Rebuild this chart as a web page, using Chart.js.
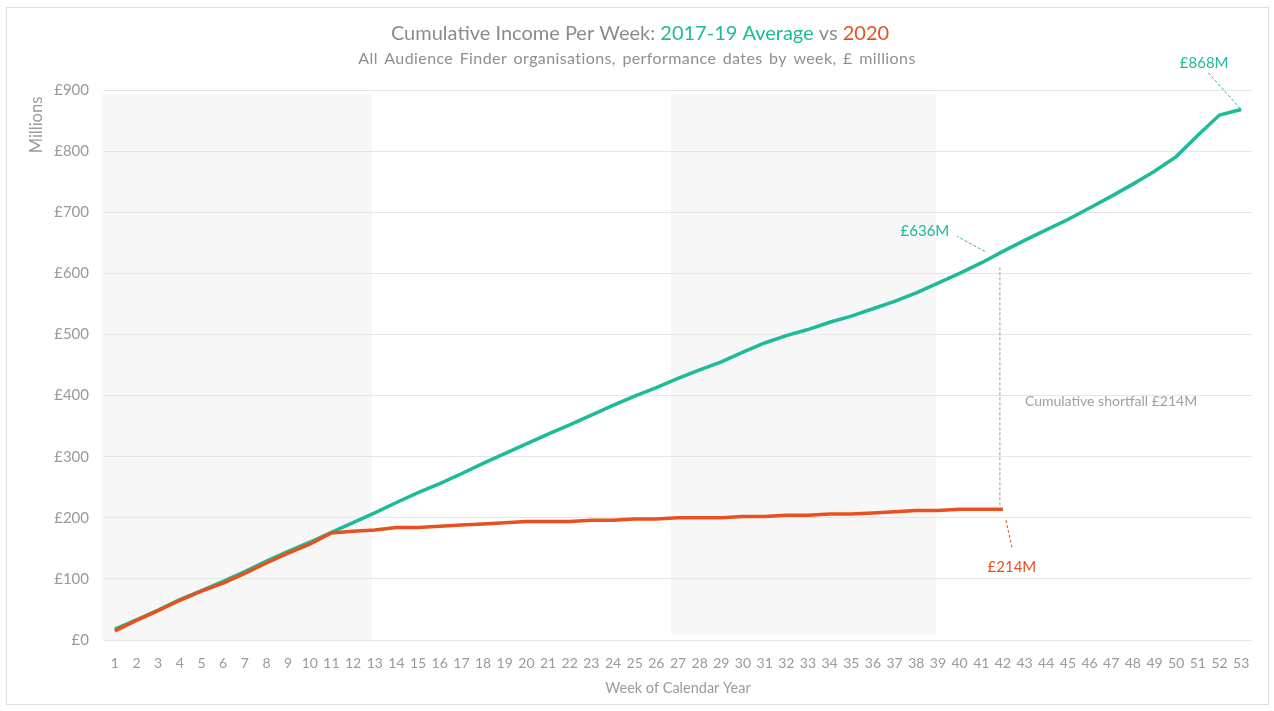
<!DOCTYPE html>
<html lang="en">
<head>
<meta charset="UTF-8">
<title>Cumulative Income Per Week</title>
<script src="https://cdn.jsdelivr.net/npm/chart.js"></script>
<style>
    html, body { margin: 0; padding: 0; background: #fff; }
    #wrap { width: 1274px; height: 711px; position: relative; }
</style>
</head>
<body>
<div id="wrap"><canvas id="myChart" width="1274" height="711"></canvas></div>
<script>
    // 데이터
    const weeks = [];
    for (let w = 1; w <= 53; w++) weeks.push(String(w));

    const avg1719 = [18, 33, 49, 66, 81, 96, 112, 129, 145, 160,
        176, 192, 208, 225, 241, 256, 272, 289, 305, 321,
        337, 352, 368, 384, 399, 413, 428, 442, 455, 471,
        486, 498, 508, 520, 530, 542, 554, 568, 584, 600,
        617, 636, 654, 671, 688, 707, 726, 746, 767, 791,
        826, 859, 868];

    const year2020 = [15, 32, 48, 65, 80, 93, 109, 126, 142, 157,
        175, 178, 180, 184, 184, 186, 188, 190, 192, 194,
        194, 194, 196, 196, 198, 198, 200, 200, 200, 202,
        202, 204, 204, 206, 206, 208, 210, 212, 212, 214,
        214, 214];

    const yTicks = [0, 100, 200, 300, 400, 500, 600, 700, 800, 900];
    const shadedWeeks = [[1, 13], [27, 39]];

    const TEAL = '#1dbb98';
    const RED = '#e8501e';
    const GREY = '#9a9a9a';
    const FONT = 'Lato, "Open Sans", sans-serif';

    // 배경 카드 + 음영 구간
    const backgroundPlugin = {
        id: 'bg',
        beforeDraw(chart) {
            const ctx = chart.ctx;
            const x = chart.scales.x, y = chart.scales.y;
            ctx.save();
            ctx.strokeStyle = '#dedede';
            ctx.lineWidth = 1;
            ctx.strokeRect(6.5, 7.5, 1262, 697);

            ctx.fillStyle = '#f7f7f7';
            const top = y.getPixelForValue(900) + 4;
            const a = shadedWeeks[0], b = shadedWeeks[1];
            ctx.fillRect(chart.chartArea.left - 2, top,
                x.getPixelForValue(a[1] - 1) - 3 - chart.chartArea.left + 2,
                y.getPixelForValue(0) - top);
            const l2 = x.getPixelForValue(b[0] - 1) - 7;
            ctx.fillRect(l2, top, x.getPixelForValue(b[1] - 1) - 2 - l2,
                y.getPixelForValue(0) - 5 - top);
            ctx.restore();
        }
    };

    // 제목, 축 제목, 주석
    const textPlugin = {
        id: 'texts',
        afterDraw(chart) {
            const ctx = chart.ctx;
            const x = chart.scales.x, y = chart.scales.y;
            ctx.save();

            // 제목 (여러 색)
            const parts = [
                ['Cumulative Income Per Week: ', '#8c8c8c'],
                ['2017-19 Average', TEAL],
                [' vs ', '#8c8c8c'],
                ['2020', RED]
            ];
            ctx.font = '20px ' + FONT;
            ctx.textBaseline = 'middle';
            ctx.textAlign = 'left';
            let total = 0;
            parts.forEach(p => total += ctx.measureText(p[0]).width);
            let cx = 640 - total / 2;
            parts.forEach(p => {
                ctx.fillStyle = p[1];
                ctx.fillText(p[0], cx, 34);
                cx += ctx.measureText(p[0]).width;
            });

            ctx.save();
            ctx.font = '16px ' + FONT;
            ctx.letterSpacing = '0.4px';
            ctx.wordSpacing = '2px';
            ctx.fillStyle = '#8f8f8f';
            ctx.textAlign = 'center';
            ctx.fillText('All Audience Finder organisations, performance dates by week, £ millions', 637, 59);
            ctx.restore();

            // 축 제목
            ctx.font = '14.5px ' + FONT;
            ctx.fillStyle = GREY;
            ctx.textAlign = 'center';
            ctx.fillText('Week of Calendar Year', 678, 688);
            ctx.save();
            ctx.font = '16.5px ' + FONT;
            ctx.translate(37, 125);
            ctx.rotate(-Math.PI / 2);
            ctx.fillText('Millions', 0, 0);
            ctx.restore();

            // 주석
            const lastI = avg1719.length - 1;
            const redI = year2020.length - 1;
            const pEnd = { x: x.getPixelForValue(lastI), y: y.getPixelForValue(avg1719[lastI]) };
            const pMid = { x: x.getPixelForValue(redI), y: y.getPixelForValue(avg1719[redI]) };
            const pRed = { x: x.getPixelForValue(redI), y: y.getPixelForValue(year2020[redI]) };

            ctx.lineWidth = 1;
            ctx.setLineDash([3, 2]);

            ctx.strokeStyle = TEAL;
            ctx.beginPath();
            ctx.moveTo(pEnd.x - 1, pEnd.y - 1);
            ctx.lineTo(pEnd.x - 33, pEnd.y - 37);
            ctx.stroke();
            ctx.beginPath();
            ctx.moveTo(pMid.x - 18, pMid.y);
            ctx.lineTo(pMid.x - 46, pMid.y - 15);
            ctx.stroke();

            ctx.strokeStyle = RED;
            ctx.beginPath();
            ctx.moveTo(pRed.x + 3, pRed.y + 11);
            ctx.lineTo(pRed.x + 9, pRed.y + 38);
            ctx.stroke();

            ctx.strokeStyle = '#9a9a9a';
            ctx.beginPath();
            ctx.moveTo(pMid.x - 3, pMid.y + 16);
            ctx.lineTo(pMid.x - 3, pRed.y - 4);
            ctx.stroke();
            ctx.setLineDash([]);

            ctx.font = '15px ' + FONT;
            ctx.textAlign = 'center';
            ctx.fillStyle = TEAL;
            ctx.fillText('£' + avg1719[lastI] + 'M', pEnd.x - 37, pEnd.y - 46);
            ctx.fillText('£' + avg1719[redI] + 'M', pMid.x - 78, pMid.y - 20);
            ctx.fillStyle = RED;
            ctx.fillText('£' + year2020[redI] + 'M', pRed.x + 9, pRed.y + 58);

            ctx.font = '14px ' + FONT;
            ctx.fillStyle = '#a0a0a0';
            ctx.textAlign = 'left';
            ctx.fillText('Cumulative shortfall £214M', pMid.x + 22, (pMid.y + pRed.y) / 2 + 21);

            ctx.restore();
        }
    };

    const ctx = document.querySelector('#myChart');
    new Chart(ctx, {
        type: 'line',
        data: {
            labels: weeks,
            datasets: [
                {
                    label: '2017-19 Average',
                    data: avg1719,
                    borderColor: TEAL,
                    borderWidth: 3.5,
                    pointRadius: 0,
                    tension: 0,
                    order: 2
                },
                {
                    label: '2020',
                    data: year2020,
                    borderColor: RED,
                    borderWidth: 3.5,
                    pointRadius: 0,
                    tension: 0,
                    order: 1
                }
            ]
        },
        options: {
            responsive: false,
            animation: false,
            layout: { padding: { top: 90, right: 22, left: 0, bottom: 0 } },
            plugins: {
                legend: { display: false },
                tooltip: { enabled: false }
            },
            scales: {
                x: {
                    offset: true,
                    grid: { display: false, drawTicks: false },
                    border: { display: false },
                    ticks: {
                        autoSkip: false,
                        maxRotation: 0,
                        padding: 15,
                        color: GREY,
                        font: { family: FONT, size: 14 }
                    },
                    afterFit: (axis) => { axis.height = 71; }
                },
                y: {
                    min: 0,
                    max: 900,
                    afterBuildTicks: (axis) => { axis.ticks = yTicks.map(v => ({ value: v })); },
                    grid: { color: '#e6e6e6', lineWidth: 1, drawTicks: false },
                    border: { display: false },
                    ticks: {
                        padding: 15,
                        color: GREY,
                        font: { family: FONT, size: 15 },
                        callback: (v) => '£' + v
                    },
                    afterFit: (axis) => { axis.width = 104; }
                }
            }
        },
        plugins: [backgroundPlugin, textPlugin]
    });
</script>
</body>
</html>
